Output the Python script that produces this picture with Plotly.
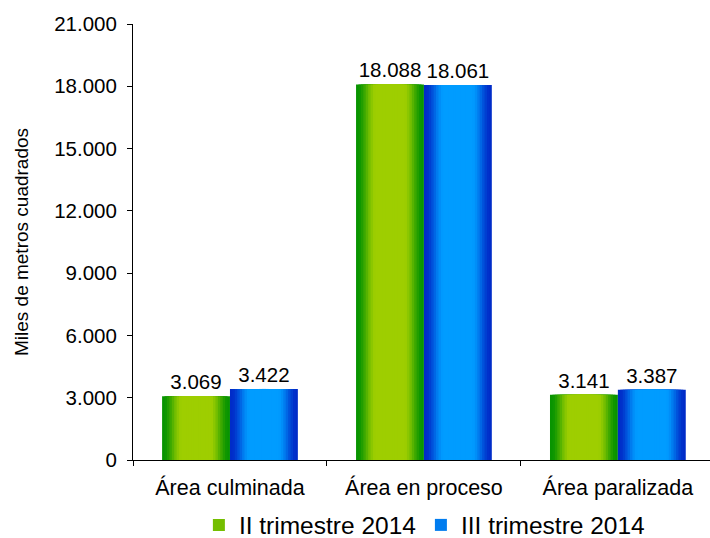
import plotly.graph_objects as go

categories = ["Área culminada", "Área en proceso", "Área paralizada"]
series_names = ["II trimestre 2014", "III trimestre 2014"]
values_q2 = [3069, 18088, 3141]
values_q3 = [3422, 18061, 3387]
y_ticks = [0, 3000, 6000, 9000, 12000, 15000, 18000, 21000]

# gradient colour ends (edge -> centre)
green_edge, green_mid = (8, 148, 0), (158, 206, 0)
blue_edge, blue_mid = (0, 44, 200), (0, 156, 255)

BAR_W = 0.35
N_LAYERS = 14
FONT = "Liberation Sans, Arial"


def mix(a, b, t):
    return "rgb(%d,%d,%d)" % tuple(round(a[i] + (b[i] - a[i]) * t) for i in range(3))


fig = go.Figure()

for s_idx, (name, vals, edge, mid, base_off) in enumerate([
    (series_names[0], values_q2, green_edge, green_mid, -BAR_W),
    (series_names[1], values_q3, blue_edge, blue_mid, 0.0),
]):
    for k in range(N_LAYERS):
        frac = 1 - k / N_LAYERS
        w = BAR_W * frac
        off = base_off + (BAR_W - w) / 2
        t = min(1.0, k / (N_LAYERS * 0.55))
        t = t * t * (3 - 2 * t)
        outer = k == 0
        fig.add_trace(go.Bar(
            x=categories, y=vals, name=name,
            width=[w] * len(vals), offset=[off] * len(vals),
            marker=dict(color=mix(edge, mid, t), line=dict(width=0)),
            text=vals if outer else None,
            texttemplate="%{y:,}" if outer else None,
            textposition="outside" if outer else "none",
            textfont=dict(size=20.5, color="black", family=FONT),
            cliponaxis=False,
            showlegend=(k == 5),
            legendgroup=name,
            hoverinfo="skip" if not outer else None,
        ))

fig.update_layout(
    width=710, height=538,
    barmode="overlay",
    separators=",.",
    plot_bgcolor="white", paper_bgcolor="white",
    margin=dict(l=133, r=0, t=24, b=78, autoexpand=False),
    font=dict(family=FONT, size=20, color="black"),
    legend=dict(orientation="h", x=0.505, xanchor="center", y=-0.149, yanchor="middle",
                font=dict(size=24.5), itemwidth=30, traceorder="normal"),
    xaxis=dict(range=[-0.5, 2.475], showline=True, linecolor="black", linewidth=1,
               ticks="outside", tickson="boundaries", ticklen=5, tickcolor="black",
               tickfont=dict(size=21.5), showgrid=False, ticklabelstandoff=8),
    yaxis=dict(range=[0, 21000], tickvals=y_ticks, tickformat=",d",
               showline=True, linecolor="black", linewidth=1,
               ticks="outside", ticklen=5, tickcolor="black", showgrid=False,
               zeroline=False, tickfont=dict(size=20.5), ticklabelstandoff=6,
               title=dict(text="Miles de metros cuadrados", font=dict(size=19), standoff=20)),
)

fig.write_html("out.html")
